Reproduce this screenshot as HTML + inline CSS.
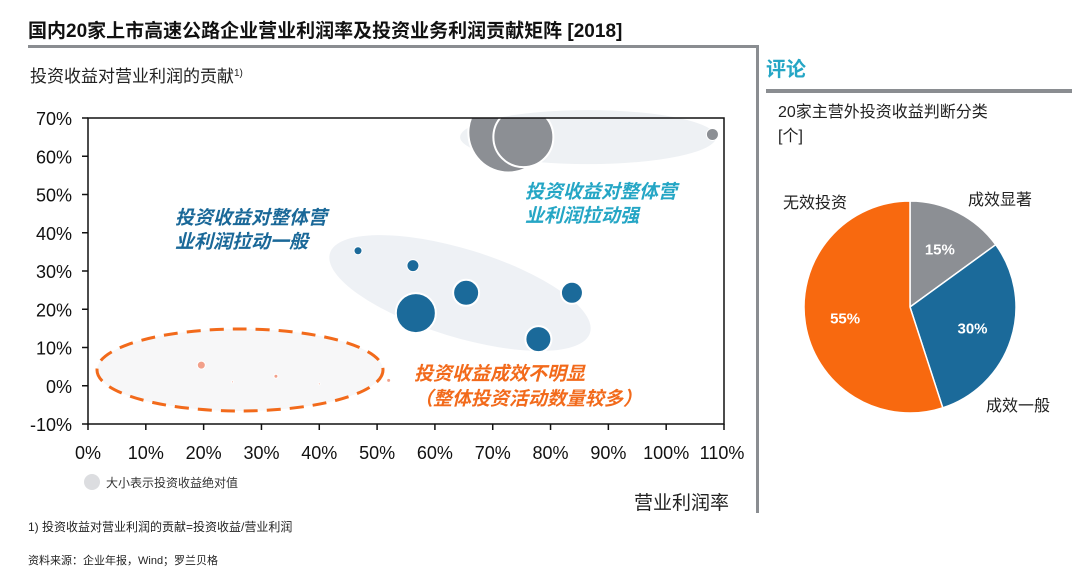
<!DOCTYPE html>
<html><head><meta charset="utf-8">
<style>
body{margin:0;background:#fff;font-family:"Liberation Sans","Noto Sans CJK SC",sans-serif;}
svg text{font-family:"Liberation Sans","Noto Sans CJK SC",sans-serif;}
</style></head>
<body>
<svg id="c" width="1080" height="570" viewBox="0 0 1080 570" xmlns="http://www.w3.org/2000/svg">
<defs><clipPath id="pc"><rect x="88" y="118" width="636" height="306"/></clipPath></defs>
<text x="28" y="37" font-size="19" font-weight="bold" fill="#111">国内20家上市高速公路企业营业利润率及投资业务利润贡献矩阵 [2018]</text>
<rect x="28" y="45" width="730" height="3" fill="#8a8d91"/>
<rect x="756" y="45" width="3" height="468" fill="#8a8d91"/>
<text x="30" y="82" font-size="17" fill="#222">投资收益对营业利润的贡献<tspan font-size="10" dy="-6">1)</tspan></text>
<g id="bg"></g>
<g id="plot" clip-path="url(#pc)"></g>
<rect x="88" y="118" width="636" height="306" fill="none" stroke="#111" stroke-width="1.5"/>
<g id="axes"></g>
<text x="175" y="224" font-size="19" font-style="italic" font-weight="bold" fill="#1a6898"><tspan x="175">投资收益对整体营</tspan><tspan x="175" dy="24">业利润拉动一般</tspan></text>
<text x="525" y="198" font-size="19" font-style="italic" font-weight="bold" fill="#25a6c5"><tspan x="525">投资收益对整体营</tspan><tspan x="525" dy="24">业利润拉动强</tspan></text>
<text x="414" y="380" font-size="19" font-style="italic" font-weight="bold" fill="#f26a1b"><tspan x="414">投资收益成效不明显</tspan><tspan x="414" dy="25">（整体投资活动数量较多）</tspan></text>
<circle cx="92" cy="482" r="8" fill="#dcdde0"/>
<text x="106" y="487" font-size="12" fill="#333">大小表示投资收益绝对值</text>
<text x="634" y="509" font-size="19" fill="#222">营业利润率</text>
<text x="28" y="531" font-size="12" fill="#222">1) 投资收益对营业利润的贡献=投资收益/营业利润</text>
<text x="28" y="564" font-size="11" fill="#222">资料来源：企业年报，Wind；罗兰贝格</text>
<text x="766" y="76" font-size="20" font-weight="bold" fill="#25a6c5">评论</text>
<rect x="766" y="89" width="306" height="4" fill="#8a8d91"/>
<text x="778" y="117" font-size="16" fill="#222"><tspan x="778">20家主营外投资收益判断分类</tspan><tspan x="778" dy="24">[个]</tspan></text>
<g id="pie"></g>
</svg>
<script>
const NS="http://www.w3.org/2000/svg";
const xTicks=[0,10,20,30,40,50,60,70,80,90,100,110];
const yTicks=[-10,0,10,20,30,40,50,60,70];
const bubX=[72.7,75.3,108,46.7,56.2,65.4,56.7,83.7,77.9,19.6,32.5,52.0,25,40];
const bubY=[66.2,65.0,65.7,35.3,31.4,24.3,19.0,24.3,12.2,5.4,2.5,1.4,1,0.5];
const bubR=[40,30,6,4,6,13,20,11,13,4,2,2,1,1];
const bubGroup=["strong","strong","strong","medium","medium","medium","medium","medium","medium","weak","weak","weak","weak","weak"];
const pieLabels=["成效显著","成效一般","无效投资"];
const pieValues=[15,30,55];
const pieColors=["#8c8f94","#1b6a9a","#f8690f"];
const X=v=>88+(v)*636/110;
const Y=v=>424-(v+10)*306/80;
function mk(t,a,p){const e=document.createElementNS(NS,t);for(const k in a)e.setAttribute(k,a[k]);p.appendChild(e);return e;}
const bg=document.getElementById('bg'),plot=document.getElementById('plot'),axes=document.getElementById('axes'),pie=document.getElementById('pie');
// background group ellipses
let e1=mk('ellipse',{cx:X(86.5),cy:Y(65),rx:128,ry:27,fill:'#eef1f4'},bg);


let e2=mk('ellipse',{cx:460,cy:293,rx:136,ry:44,fill:'#eef1f5',transform:'rotate(17 460 293)'},bg);


let e3=mk('ellipse',{cx:240,cy:370,rx:143,ry:41,fill:'#f7f7f8',stroke:'#f26a1b','stroke-width':3,'stroke-dasharray':'14 9'},bg);


const col={strong:'#8c8f94',medium:'#1b6a9a',weak:'#f2a08a'};
for(let i=0;i<bubX.length;i++){
 const c=mk('circle',{cx:X(bubX[i]),cy:Y(bubY[i]),r:bubR[i],fill:col[bubGroup[i]],stroke:'#fff','stroke-width':bubR[i]>8?2:1},plot);
 
 
}
xTicks.forEach(v=>{
 mk('line',{x1:X(v),x2:X(v),y1:424,y2:430,stroke:'#111','stroke-width':1.5},axes);
 const t=mk('text',{x:X(v)+(v==110?-2:0),y:459,'font-size':18,'text-anchor':'middle',fill:'#111'},axes);
 t.textContent=v+'%';
 
 
});
yTicks.forEach(v=>{
 mk('line',{x1:82,x2:88,y1:Y(v),y2:Y(v),stroke:'#111','stroke-width':1.5},axes);
 const t=mk('text',{x:72,y:Y(v)+7,'font-size':18,'text-anchor':'end',fill:'#111'},axes);
 t.textContent=v+'%';
 
 
});
// pie
const cx=910,cy=307,r=106;
const tot=pieValues.reduce((a,b)=>a+b,0);
let a0=-Math.PI/2;
const labPos=[[1000,205,'middle'],[1018,411,'middle'],[815,208,'middle']];
pieValues.forEach((v,i)=>{
 const a1=a0+v/tot*2*Math.PI;
 const large=(a1-a0)>Math.PI?1:0;
 const p=mk('path',{d:`M${cx},${cy}L${cx+r*Math.cos(a0)},${cy+r*Math.sin(a0)}A${r},${r} 0 ${large} 1 ${cx+r*Math.cos(a1)},${cy+r*Math.sin(a1)}Z`,fill:pieColors[i],stroke:'#fff','stroke-width':1.5},pie);
 
 
 const am=(a0+a1)/2, rr=r*0.62;
 const t=mk('text',{x:cx+rr*Math.cos(am),y:cy+rr*Math.sin(am)+6,'font-size':15,'font-weight':'bold','text-anchor':'middle',fill:'#fff'},pie);
 t.textContent=v+'%';
 
 
 const l=mk('text',{x:labPos[i][0],y:labPos[i][1],'font-size':16,'text-anchor':labPos[i][2],fill:'#222'},pie);
 l.textContent=pieLabels[i];
 
 
 a0=a1;
});
</script>
</body></html>
